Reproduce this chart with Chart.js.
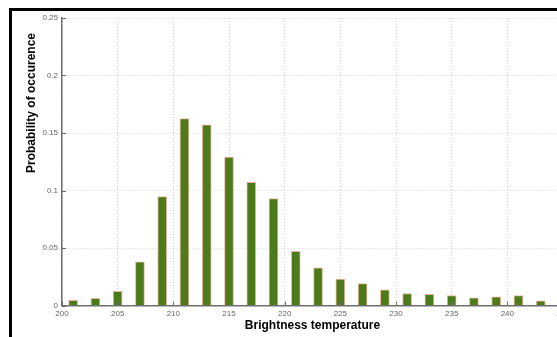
<!DOCTYPE html>
<html>
<head>
<meta charset="utf-8">
<script src="https://cdn.jsdelivr.net/npm/chart.js@4.4.1/dist/chart.umd.min.js"></script>
<style>
	html, body { margin: 0; padding: 0; background: #fff; overflow: hidden; width: 557px; height: 337px; }
	#frame { position: absolute; left: 9px; top: 8px; width: 700px; height: 400px; border-left: 3px solid #000; border-top: 3px solid #000; }
	#wrap { position: absolute; left: 0; top: 0; width: 620px; height: 337px; }
</style>
</head>
<body>
<div id="frame"></div>
<div id="wrap"><canvas id="histChart"></canvas></div>
<script>
// brightness temperature bins and their probability
const temps = [201, 203, 205, 207, 209, 211, 213, 215, 217, 219, 221, 223, 225, 227, 229, 231, 233, 235, 237, 239, 241, 243];
const probs = [0.0046, 0.0063, 0.0124, 0.038, 0.0947, 0.1626, 0.157, 0.129, 0.107, 0.093, 0.047, 0.0327, 0.023, 0.019, 0.0136, 0.0104, 0.0098, 0.0087, 0.0067, 0.0075, 0.0087, 0.004];
const xTicks = [200, 205, 210, 215, 220, 225, 230, 235, 240, 245];
const yTicks = [0, 0.05, 0.1, 0.15, 0.2, 0.25];
const xTitle = 'Brightness temperature';
const yTitle = 'Probability of occurence';

const axisGray = '#6e6e6e';
const tickFont = { family: '"Liberation Sans", Arial, sans-serif', size: 8 };

// matlab style: inward tick marks + y title placed a bit above the middle
const extras = {
	id: 'extras',
	afterDraw(chart) {
		const ctx = chart.ctx;
		const xs = chart.scales.x, ys = chart.scales.y;
		const area = chart.chartArea;
		ctx.save();
		ctx.strokeStyle = axisGray;
		ctx.lineWidth = 1;
		ctx.beginPath();
		yTicks.forEach(v => {
			const py = Math.round(ys.getPixelForValue(v)) + 0.5;
			ctx.moveTo(area.left, py);
			ctx.lineTo(area.left + 4, py);
		});
		xTicks.forEach(v => {
			const px = Math.round(xs.getPixelForValue(v)) + 0.5;
			ctx.moveTo(px, area.bottom);
			ctx.lineTo(px, area.bottom - 4);
		});
		ctx.stroke();

		ctx.fillStyle = '#000';
		ctx.font = 'bold 12px "Liberation Sans", Arial, sans-serif';
		ctx.textAlign = 'center';
		ctx.textBaseline = 'middle';
		ctx.translate(32, 103);
		ctx.rotate(-Math.PI / 2);
		ctx.fillText(yTitle, 0, 0);
		ctx.restore();
	}
};

new Chart(document.getElementById('histChart'), {
	type: 'bar',
	data: {
		datasets: [
			{
				data: temps.map((t, i) => ({ x: t, y: probs[i] })),
				backgroundColor: '#4b7b1a',
				borderColor: '#ebb69c',
				borderWidth: 1,
				barThickness: 9
			}
		]
	},
	options: {
		responsive: true,
		maintainAspectRatio: false,
		animation: false,
		layout: {
			padding: { left: 0, top: 18, right: 57, bottom: 0 }
		},
		plugins: {
			legend: { display: false },
			tooltip: { enabled: false }
		},
		scales: {
			x: {
				type: 'linear',
				min: 200,
				max: 245,
				offset: false,
				afterBuildTicks: s => { s.ticks = xTicks.map(v => ({ value: v })); },
				afterFit: s => { s.height = 31.5; },
				grid: {
					offset: false,
					drawTicks: false,
					color: '#d4d4d4',
					lineWidth: 1
				},
				border: { color: axisGray, width: 1.5, dash: [1, 2] },
				ticks: {
					padding: 3,
					color: '#666',
					font: tickFont,
					maxRotation: 0,
					autoSkip: false
				},
				title: {
					display: true,
					text: xTitle,
					color: '#000',
					font: { family: '"Liberation Sans", Arial, sans-serif', size: 12, weight: 'bold' },
					padding: { top: 0, bottom: 4 }
				}
			},
			y: {
				min: 0,
				max: 0.25,
				afterBuildTicks: s => { s.ticks = yTicks.map(v => ({ value: v })); },
				afterFit: s => { s.width = 62; },
				grid: {
					drawTicks: false,
					color: '#d4d4d4',
					lineWidth: 1
				},
				border: { color: axisGray, width: 1.5, dash: [1, 2] },
				ticks: {
					padding: 4,
					color: '#666',
					font: tickFont,
					callback: v => String(v)
				}
			}
		}
	},
	plugins: [extras]
});
</script>
</body>
</html>
